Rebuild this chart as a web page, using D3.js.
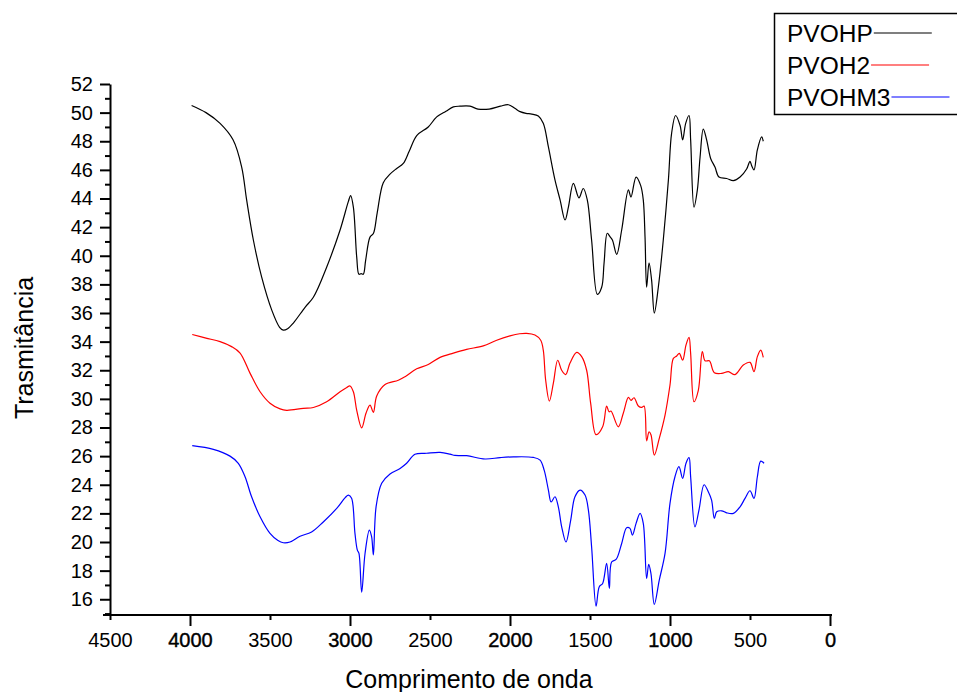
<!DOCTYPE html>
<html>
<head>
<meta charset="utf-8">
<script src="https://cdn.jsdelivr.net/npm/d3@7"></script>
<style>
  body { margin: 0; background: #fff; }
  svg { font-family: "Liberation Sans", Arial, sans-serif; }
</style>
</head>
<body>
<svg id="chart" width="957" height="692"></svg>
<script>
    // Series names and colours
    const seriesNames = ["PVOHP", "PVOH2", "PVOHM3"];
    const seriesColors = ["#000000", "#ff0000", "#0000ff"];

    // Tick values
    const xTicks = [4500, 4000, 3500, 3000, 2500, 2000, 1500, 1000, 500, 0];
    const yMajor = d3.range(16, 53, 2);
    const yMinor = d3.range(15, 52, 2);

    // Spectra: [wavenumber, transmittance]
    const pvohp = [[3990,50.5],[3900,50.0],[3812,49.25],[3731,48.1],[3677,46.2],[3646,43.9],[3604,41.1],[3552,38.5],[3489,36.2],[3440,35.0],[3417,34.8],[3390,34.9],[3354,35.3],[3281,36.4],[3229,37.1],[3146,39.2],[3062,41.8],[3010,43.8],[2996,44.2],[2979,43.4],[2958,39.9],[2944,38.7],[2930,38.75],[2917,38.7],[2902,39.7],[2875,41.3],[2854,41.55],[2830,43.0],[2792,45.1],[2750,45.7],[2708,46.1],[2667,46.45],[2630,47.3],[2583,48.4],[2511,49.0],[2458,49.7],[2400,50.1],[2354,50.4],[2313,50.45],[2250,50.45],[2200,50.25],[2130,50.25],[2060,50.45],[2010,50.55],[1970,50.3],[1937,50.07],[1900,49.95],[1864,49.9],[1823,49.76],[1792,49.25],[1760,47.6],[1719,45.3],[1687,43.9],[1656,42.5],[1635,43.4],[1604,45.06],[1569,44.05],[1542,44.7],[1517,43.9],[1490,41.1],[1454,37.3],[1427,37.8],[1412,39.5],[1392,41.57],[1375,41.33],[1360,41.1],[1333,40.1],[1302,41.8],[1260,44.6],[1244,44.1],[1212,45.5],[1183,44.9],[1167,43.9],[1156,41.3],[1146,37.8],[1131,39.5],[1115,38.3],[1098,36.0],[1073,37.8],[1042,41.1],[1010,45.3],[990,48.55],[965,49.8],[937,49.1],[921,48.1],[902,49.25],[881,49.8],[871,48.1],[850,43.4],[829,44.6],[812,46.9],[792,48.85],[771,48.1],[746,46.8],[719,46.2],[694,45.5],[646,45.4],[604,45.25],[562,45.5],[521,46.06],[500,46.6],[490,46.3],[475,46.0],[454,47.4],[427,48.3],[417,48.0]];

    const pvoh2 = [[3986,34.5],[3900,34.25],[3812,34.0],[3740,33.65],[3687,33.2],[3625,31.8],[3562,30.5],[3500,29.7],[3437,29.3],[3396,29.2],[3292,29.34],[3229,29.4],[3146,29.8],[3062,30.5],[3020,30.8],[3000,30.9],[2979,30.5],[2958,29.2],[2927,27.98],[2900,29.0],[2875,29.57],[2854,29.06],[2833,30.2],[2781,31.0],[2698,31.3],[2656,31.55],[2583,32.1],[2511,32.4],[2437,32.9],[2354,33.2],[2271,33.46],[2167,33.7],[2083,34.1],[2000,34.4],[1940,34.55],[1896,34.58],[1844,34.46],[1808,34.1],[1792,33.4],[1777,31.3],[1754,29.85],[1729,31.1],[1702,32.7],[1677,32.0],[1652,31.7],[1625,32.5],[1583,33.25],[1552,32.95],[1521,32.0],[1496,29.7],[1462,27.5],[1421,28.05],[1396,29.5],[1381,29.1],[1369,29.15],[1323,28.05],[1292,29.0],[1260,30.1],[1244,29.9],[1225,30.08],[1198,29.5],[1177,29.4],[1162,29.5],[1146,27.07],[1131,27.7],[1119,27.5],[1098,26.07],[1067,27.24],[1031,28.87],[1000,30.97],[979,32.83],[958,33.0],[942,33.18],[921,32.7],[900,33.76],[881,34.3],[871,33.18],[850,29.8],[823,30.6],[798,33.3],[781,32.66],[754,32.66],[723,31.83],[677,31.78],[635,31.9],[594,31.7],[542,32.36],[500,32.55],[475,31.9],[454,32.95],[433,33.4],[417,32.9]];

    const pvohm3 = [[3986,26.73],[3854,26.47],[3750,26.0],[3698,25.5],[3656,24.56],[3615,23.16],[3562,21.76],[3500,20.6],[3450,20.1],[3417,19.95],[3375,20.0],[3312,20.4],[3240,20.7],[3167,21.4],[3083,22.35],[3030,23.1],[3010,23.28],[2990,23.05],[2969,20.6],[2954,19.43],[2944,19.2],[2927,16.5],[2906,19.2],[2879,20.83],[2865,20.37],[2854,19.1],[2837,22.46],[2802,24.1],[2750,24.75],[2687,25.14],[2646,25.5],[2594,26.13],[2521,26.2],[2437,26.26],[2375,26.14],[2344,26.05],[2271,26.03],[2156,25.8],[2062,25.9],[1979,25.95],[1854,25.91],[1812,25.72],[1786,25.0],[1760,23.63],[1743,22.8],[1719,23.16],[1698,22.46],[1677,21.06],[1650,20.0],[1621,21.5],[1594,23.16],[1562,23.63],[1531,23.28],[1510,22.23],[1490,19.67],[1462,15.52],[1442,16.88],[1421,17.1],[1396,18.5],[1379,16.76],[1365,18.6],[1337,18.78],[1302,19.9],[1271,21.0],[1250,20.95],[1235,20.48],[1212,21.3],[1187,22.0],[1167,21.3],[1146,17.46],[1133,18.44],[1119,17.8],[1098,15.64],[1067,17.34],[1031,19.2],[1000,22.7],[969,24.56],[944,25.26],[921,24.45],[900,25.5],[881,25.89],[871,24.56],[844,21.06],[819,22.23],[787,24.0],[760,23.5],[740,22.93],[723,21.65],[708,22.11],[677,22.18],[646,22.04],[604,22.0],[562,22.46],[531,23.05],[500,23.58],[475,23.05],[454,24.56],[433,25.65],[412,25.5]];

    const series = [pvohp, pvoh2, pvohm3];

    const svg = d3.select("#chart");

    // Scales (wavenumber axis runs right to left)
    const x = d3.scaleLinear().domain([4500, 0]).range([110, 830]);
    const y = d3.scaleLinear().domain([14.9, 52]).range([615, 84]);

    // Spectra
    const line = d3.line()
        .x(d => x(d[0]))
        .y(d => y(d[1]))
        .curve(d3.curveCatmullRom.alpha(0.5));

    svg.append("g")
      .selectAll("path")
      .data(series)
      .join("path")
        .attr("fill", "none")
        .attr("stroke", (d, i) => seriesColors[i])
        .attr("stroke-width", 1.2)
        .attr("d", line);

    // Y axis: labelled even ticks, short odd ticks
    svg.append("g")
        .attr("transform", "translate(110,0)")
        .call(d3.axisLeft(y).tickValues(yMajor).tickSize(10).tickSizeOuter(0).tickPadding(7));
    svg.append("g")
        .attr("transform", "translate(110,0)")
        .call(d3.axisLeft(y).tickValues(yMinor).tickSize(5).tickSizeOuter(0).tickFormat(""))
        .call(g => g.select(".domain").remove());

    // X axis: long ticks on thousands, short on the halves
    const xAxis = svg.append("g")
        .attr("transform", "translate(0,615)")
        .call(d3.axisBottom(x).tickValues(xTicks).tickSize(11).tickSizeOuter(0).tickFormat(d3.format("d")));
    xAxis.selectAll(".tick line").attr("y2", d => d % 1000 === 0 ? 11 : 5);
    xAxis.selectAll(".tick text")
        .attr("y", 18)
        .attr("stroke", d => d % 1000 === 0 ? "#000" : "none")
        .attr("stroke-width", 0.4);
    xAxis.select(".domain").attr("d", "M103,0H832");

    svg.selectAll(".domain, .tick line").attr("stroke", "#000").attr("stroke-width", 2);
    svg.selectAll(".tick text").attr("fill", "#000").attr("font-size", 20);

    // Axis titles
    svg.append("text")
        .attr("x", 469)
        .attr("y", 688)
        .attr("text-anchor", "middle")
        .attr("font-size", 25)
        .text("Comprimento de onda");

    svg.append("text")
        .attr("transform", "translate(33,348) rotate(-90)")
        .attr("text-anchor", "middle")
        .attr("font-size", 25)
        .text("Trasmitância");

    // Legend
    svg.append("rect")
        .attr("x", 774.5)
        .attr("y", 13.5)
        .attr("width", 200)
        .attr("height", 101)
        .attr("fill", "none")
        .attr("stroke", "#000")
        .attr("stroke-width", 1.5);

    seriesNames.forEach((name, i) => {
        const t = svg.append("text")
            .attr("x", 787)
            .attr("y", 41.5 + i * 32)
            .attr("font-size", 24.5)
            .text(name);
        const end = 787 + t.node().getComputedTextLength();
        svg.append("line")
            .attr("x1", end + 1)
            .attr("x2", end + 59)
            .attr("y1", 33 + i * 32)
            .attr("y2", 33 + i * 32)
            .attr("stroke", seriesColors[i])
            .attr("stroke-width", 1.2);
    });
</script>
</body>
</html>
